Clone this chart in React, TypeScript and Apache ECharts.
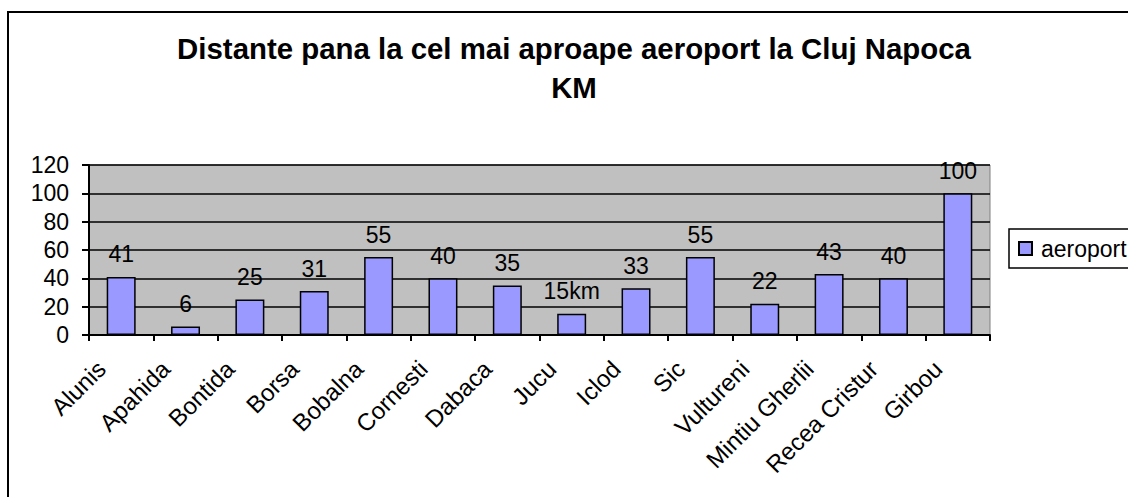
import React, { useEffect, useRef } from "react";
import * as echarts from "echarts";

const categories = [
  "Alunis", "Apahida", "Bontida", "Borsa", "Bobalna", "Cornesti", "Dabaca",
  "Jucu", "Iclod", "Sic", "Vultureni", "Mintiu Gherlii", "Recea Cristur", "Girbou",
];
const aeroport = [41, 6, 25, 31, 55, 40, 35, 15, 33, 55, 22, 43, 40, 100];
const labelSuffix = ["", "", "", "", "", "", "", "km", "", "", "", "", "", ""];
const yTicks = [0, 20, 40, 60, 80, 100, 120];
const titleLines = ["Distante pana la cel mai aproape aeroport la Cluj Napoca", "KM"];
const seriesName = "aeroport";

export default function App() {
  const ref = useRef<HTMLDivElement>(null);
  useEffect(() => {
    if (!ref.current) return;
    const chart = echarts.init(ref.current, null, { renderer: "svg" });
    const font = "Arial, 'Liberation Sans', sans-serif";
    chart.setOption({
      animation: false,
      backgroundColor: "#ffffff",
      textStyle: { fontFamily: font, color: "#000" },
      graphic: [
        {
          type: "rect",
          shape: { x: 8, y: 12, width: 1140, height: 510 },
          style: { fill: "none", stroke: "#000", lineWidth: 2 },
          z: -1,
        },
      ],
      title: {
        text: titleLines.join("\n"),
        left: 569,
        textAlign: "center",
        top: 24,
        textStyle: {
          fontFamily: font,
          fontSize: 29.4,
          fontWeight: "bold",
          lineHeight: 39,
          color: "#000",
        },
      },
      legend: {
        left: 1009,
        top: 229,
        orient: "vertical",
        padding: [8, 12, 8, 9],
        itemWidth: 13,
        itemHeight: 13,
        backgroundColor: "#fff",
        borderColor: "#000",
        borderWidth: 1.5,
        borderRadius: 0,
        textStyle: { fontFamily: font, fontSize: 23, color: "#000", padding: [0, 0, 0, 4] },
        data: [{ name: seriesName, icon: "rect" }],
      },
      grid: {
        left: 89,
        right: 138,
        top: 165,
        bottom: 162,
        show: true,
        backgroundColor: "#C0C0C0",
        borderColor: "#808080",
        borderWidth: 1,
        containLabel: false,
      },
      xAxis: {
        type: "category",
        data: categories,
        boundaryGap: true,
        axisLine: { lineStyle: { color: "#000", width: 2 } },
        axisTick: { show: true, alignWithLabel: false, length: 6, lineStyle: { color: "#000", width: 2 } },
        axisLabel: {
          rotate: 45,
          interval: 0,
          margin: 10,
          padding: [0, 28, 0, 0],
          fontFamily: font,
          fontSize: 24,
          color: "#000",
        },
        splitLine: { show: false },
      },
      yAxis: {
        type: "value",
        min: yTicks[0],
        max: yTicks[yTicks.length - 1],
        interval: 20,
        axisLine: { show: true, lineStyle: { color: "#000", width: 2 } },
        axisTick: { show: true, length: 7, lineStyle: { color: "#000", width: 2 } },
        axisLabel: { fontFamily: font, fontSize: 23, color: "#000", margin: 20 },
        splitLine: { show: true, lineStyle: { color: "#000", width: 1.5 } },
      },
      series: [
        {
          name: seriesName,
          type: "bar",
          data: aeroport,
          barWidth: "45%",
          itemStyle: { color: "#9999FF", borderColor: "#000", borderWidth: 1.5 },
          label: {
            show: true,
            position: "top",
            distance: 11,
            fontFamily: font,
            fontSize: 23,
            color: "#000",
            formatter: (p: any) => `${p.value}${labelSuffix[p.dataIndex]}`,
          },
        },
      ],
    });
    return () => chart.dispose();
  }, []);
  return (
    <div
      ref={ref}
      style={{ position: "absolute", left: 0, top: 0, width: 1128, height: 497 }}
    />
  );
}
